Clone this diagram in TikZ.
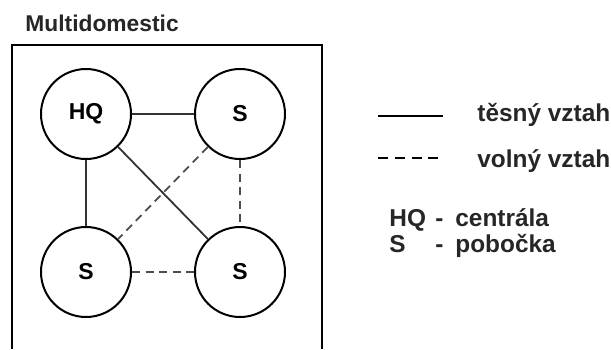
\documentclass[tikz,border=0pt]{standalone}
\usepackage{fontspec}
\setmainfont{Liberation Sans}
\usetikzlibrary{positioning}
\tikzset{
  site/.style={circle,draw,line width=1pt,minimum size=45pt,inner sep=0pt,font=\bfseries\fontsize{11.5}{13}\selectfont},
  tight/.style={line width=0.9pt,draw=black!80},
  loose/.style={line width=0.9pt,draw=black!70,dash pattern=on 4pt off 2.8pt},
  lbl/.style={anchor=base west,inner sep=0pt,font=\bfseries\fontsize{12.2}{14}\selectfont,text=black!85}
}
\begin{document}
\begin{tikzpicture}[x=0.5pt,y=-0.5pt]
\useasboundingbox (0,0) rectangle (611,349);
% frame, open at the bottom
\draw[line width=1pt] (12,349) -- (12,45) -- (322,45) -- (322,349);
\node[lbl,font=\bfseries\fontsize{11.4}{13}\selectfont] (title) at (25,31) {Multidomestic};
% sites
\node[site] (hq) at (86,114) {HQ};
\node[site] (s1) at (240,114) {S};
\node[site] (s2) at (86,272) {S};
\node[site] (s3) at (240,272) {S};
\draw[tight] (hq) -- (s1);
\draw[tight] (hq) -- (s2);
\draw[tight] (hq) -- (s3);
\draw[loose] (s1) -- (s2);
\draw[loose] (s1) -- (s3);
\draw[loose] (s2) -- (s3);
% legend
\coordinate (a1) at (378,116);
\coordinate (b1) at (443,116);
\coordinate (a2) at (378,158);
\coordinate (b2) at (443,158);
\draw[line width=1.3pt] (a1) -- (b1);
\draw[line width=1.3pt,dash pattern=on 5pt off 3.4pt] (a2) -- (b2);
\node[lbl] (tight) at (477,121) {těsný vztah};
\node[lbl] (loose) at (477,167) {volný vztah};
\node[lbl] (khq) at (389,226) {HQ};
\node[lbl] (dhq) at (435,226) {-};
\node[lbl] (vhq) at (455,226) {centrála};
\node[lbl] (ks) at (389,252) {S};
\node[lbl] (ds) at (435,252) {-};
\node[lbl] (vs) at (455,252) {pobočka};
\end{tikzpicture}
\end{document}
